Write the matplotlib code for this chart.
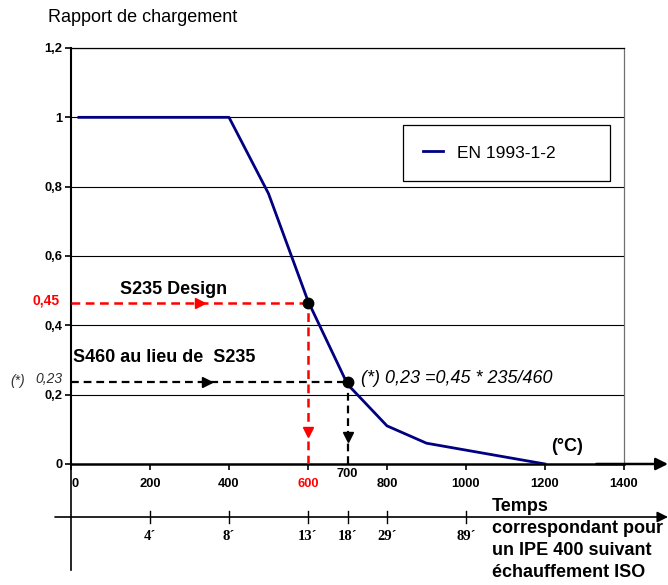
import matplotlib
matplotlib.use("Agg")
import matplotlib.pyplot as plt
from matplotlib.transforms import blended_transform_factory

# ---------------- data ----------------
temps = [20, 400, 500, 600, 700, 800, 900, 1000, 1100, 1200]
ratio = [1.0, 1.0, 0.78, 0.47, 0.23, 0.11, 0.06, 0.04, 0.02, 0.0]
series_name = "EN 1993-1-2"

x_ticks = [0, 200, 400, 600, 800, 1000, 1200, 1400]
x_tick_labels = ["0", "200", "400", "600", "800", "1000", "1200", "1400"]
y_ticks = [0, 0.2, 0.4, 0.6, 0.8, 1.0, 1.2]
y_tick_labels = ["0", "0,2", "0,4", "0,6", "0,8", "1", "1,2"]

design_temp, design_ratio = 600, 0.465      # S235 design point
s460_temp, s460_ratio = 700, 0.237          # S460 point

time_temps = [200, 400, 600, 700, 800, 1000]
time_labels = ["4´", "8´", "13´", "18´", "29´", "89´"]

# ---------------- figure ----------------
W, H = 668, 585
fig = plt.figure(figsize=(W / 100, H / 100), dpi=100)
L, R, T, B = 71, 624, 48, 464
ax = fig.add_axes([L / W, 1 - B / H, (R - L) / W, (B - T) / H])
ax.set_xlim(0, 1400)
ax.set_ylim(0, 1.2)

font = "Liberation Sans"
plt.rcParams["font.family"] = [font, "DejaVu Sans"]
TS = 9.3  # tick label size

# grid
for yv in y_ticks[1:]:
    ax.axhline(yv, color="black", lw=0.8, zorder=1)
ax.spines["right"].set_color("#707070")
ax.spines["right"].set_linewidth(0.9)
ax.spines["top"].set_color("black")
ax.spines["top"].set_linewidth(0.9)
ax.spines["left"].set_linewidth(1.5)
ax.spines["bottom"].set_linewidth(1.8)

# ticks
ax.set_yticks(y_ticks)
ax.set_yticklabels(y_tick_labels, fontsize=TS, fontweight="bold", family=font)
ax.set_xticks(x_ticks)
ax.set_xticklabels(x_tick_labels, fontsize=TS, fontweight="bold", family=font)
ax.tick_params(axis="y", length=4, width=1.2, pad=2)
ax.tick_params(axis="x", length=4, width=1.2, pad=6)
for lab in ax.get_xticklabels():
    if lab.get_text() == "600":
        lab.set_color("red")
    if lab.get_text() == "0":
        lab.set_ha("left")
# extra "700" label (drawn slightly higher, as in the original)
tr_x = blended_transform_factory(ax.transData, ax.transAxes)
ax.text(s460_temp, -(474 - B) / (B - T), str(s460_temp), transform=tr_x,
        ha="center", va="center", fontsize=TS, fontweight="bold", family=font)

# curve
line, = ax.plot(temps, ratio, color="#000080", lw=2, zorder=4, label=series_name)

# dashed guides
dash = (0, (3.5, 2.2))
ax.plot([0, design_temp], [design_ratio, design_ratio], color="red", lw=1.8,
        linestyle=dash, zorder=3)
ax.plot([design_temp, design_temp], [0, design_ratio], color="red", lw=1.8,
        linestyle=dash, zorder=3)
ax.plot([0, s460_temp], [s460_ratio, s460_ratio], color="black", lw=1.6,
        linestyle=dash, zorder=3)
ax.plot([s460_temp, s460_temp], [0, s460_ratio], color="black", lw=1.6,
        linestyle=dash, zorder=3)
# arrow heads on guides
ax.plot([327], [design_ratio], marker=">", color="red", ms=7, zorder=5)
ax.plot([design_temp], [0.092], marker="v", color="red", ms=7, zorder=5)
ax.plot([345], [s460_ratio], marker=">", color="black", ms=7, zorder=5)
ax.plot([s460_temp], [0.078], marker="v", color="black", ms=7, zorder=5)
# points
ax.plot([design_temp], [design_ratio], "o", color="black", ms=7.5, zorder=6)
ax.plot([s460_temp], [s460_ratio], "o", color="black", ms=7.5, zorder=6)

# annotations
ax.text(124, 0.504, "S235 Design", fontsize=13, fontweight="bold", ha="left",
        va="center", family=font)
ax.text(5, 0.308, "S460 au lieu de  S235", fontsize=13, fontweight="bold",
        ha="left", va="center", family=font)
ax.text(735, 0.248, "(*) 0,23 =0,45 * 235/460", fontsize=13, style="italic",
        ha="left", va="center", family=font)
ax.text(1296, 0.05, "(°C)", fontsize=13, fontweight="bold", ha="right",
        va="center", family=font)

# left side labels
fig.text(60 / W, 1 - 301 / H, "0,45", color="red", fontsize=10, fontweight="bold",
         ha="right", va="center", family=font)
fig.text(25 / W, 1 - 381 / H, "(*)", fontsize=10, style="italic",
         ha="right", va="center", family=font, color="#303030")
fig.text(63 / W, 1 - 379 / H, "0,23", fontsize=10, style="italic",
         ha="right", va="center", family=font, color="#303030")

fig.text(48 / W, 1 - 17 / H, "Rapport de chargement", fontsize=13,
         ha="left", va="center", family=font)

# legend
lx0, lx1, ly0, ly1 = 403, 610, 122, 184
leg = ax.legend(handles=[line], loc="center",
                bbox_to_anchor=((lx0 - L) / (R - L), 1 - (ly1 - T) / (B - T),
                                (lx1 - lx0) / (R - L), (ly1 - ly0) / (B - T)),
                mode="expand", borderaxespad=0, fancybox=False, frameon=True,
                prop={"family": font, "size": 12.5}, handlelength=1.15,
                borderpad=1.15, handletextpad=0.8, framealpha=1)
leg.get_frame().set_edgecolor("black")
leg.get_frame().set_linewidth(0.9)

# axis arrow
ax.annotate("", xy=(1 + (668 - R) / (R - L), 0), xytext=(0.95, 0),
            xycoords="axes fraction", arrowprops=dict(arrowstyle="-|>", color="black",
            lw=1.8, mutation_scale=18, shrinkA=0, shrinkB=0), annotation_clip=False)

# left spine extension downward
yb = -(570 - B) / (B - T)
ax.plot([0, 0], [0, yb], transform=ax.transAxes, color="black", lw=1.2, clip_on=False)

# second (time) axis
yt = -(517 - B) / (B - T)
x0 = -(L - 55) / (R - L)
ax.annotate("", xy=(1 + (668 - R) / (R - L), yt), xytext=(x0, yt),
            xycoords="axes fraction", arrowprops=dict(arrowstyle="-|>", color="black",
            lw=1.2, mutation_scale=16, shrinkA=0, shrinkB=0), annotation_clip=False)
dt = 6 / (B - T)
for tx, tl in zip(time_temps, time_labels):
    ax.plot([tx, tx], [yt - dt, yt + dt], transform=tr_x, color="black", lw=1.0,
            clip_on=False)
    ax.text(tx, yt - 20 / (B - T), tl, transform=tr_x, ha="center", va="center",
            fontsize=10.5, fontweight="bold", family="Liberation Serif")

fig.text(492 / W, 1 - 498 / H, "Temps\ncorrespondant pour\nun IPE 400 suivant\néchauffement ISO",
         fontsize=13, fontweight="bold", ha="left", va="top", family=font,
         linespacing=1.38)

fig.savefig("out.png", dpi=100)
